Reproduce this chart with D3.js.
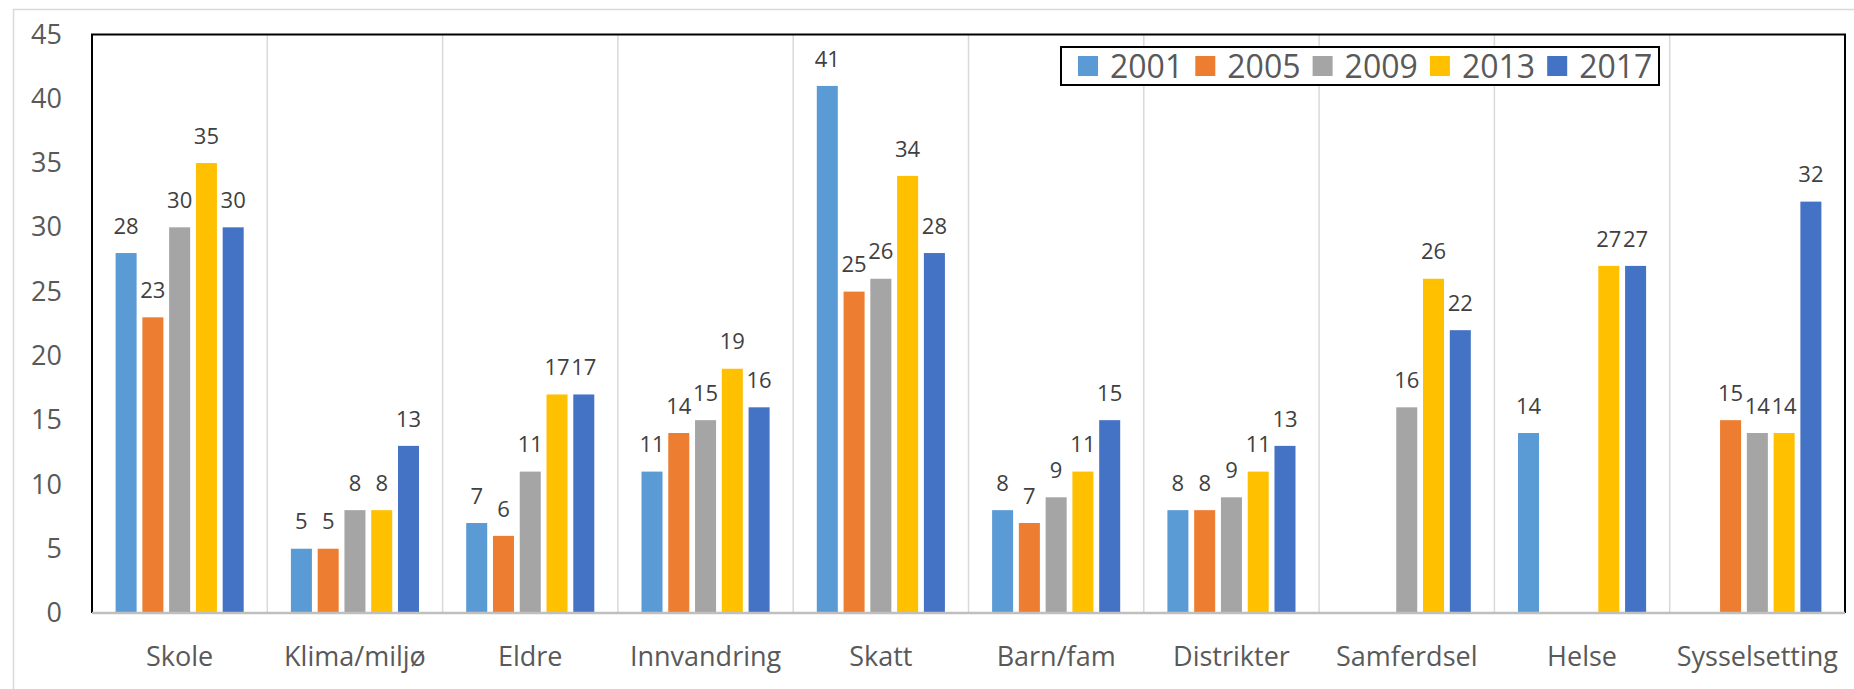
<!DOCTYPE html>
<html lang="no">
  <head>
    <meta charset="UTF-8">
    <title>Viktigste saker</title>
    <style>
      body { margin: 0; background: #fff; }
      svg { display: block; font-family: "Open Sans", sans-serif; }
    </style>
  </head>
  <body>
    <div id="chart-container"></div>
    <script src="https://d3js.org/d3.v7.min.js"></script>
    <script>
      // data
      const categories = ["Skole", "Klima/miljø", "Eldre", "Innvandring", "Skatt",
                          "Barn/fam", "Distrikter", "Samferdsel", "Helse", "Sysselsetting"];
      const years = ["2001", "2005", "2009", "2013", "2017"];
      const v2001 = [28, 5, 7, 11, 41, 8, 8, null, 14, null];
      const v2005 = [23, 5, 6, 14, 25, 7, 8, null, null, 15];
      const v2009 = [30, 8, 11, 15, 26, 9, 9, 16, null, 14];
      const v2013 = [35, 8, 17, 19, 34, 11, 11, 26, 27, 14];
      const v2017 = [30, 13, 17, 16, 28, 15, 13, 22, 27, 32];
      const yTicks = [0, 5, 10, 15, 20, 25, 30, 35, 40, 45];
      const colors = ["#5B9BD5", "#ED7D31", "#A5A5A5", "#FFC000", "#4472C4"];

      const series = [v2001, v2005, v2009, v2013, v2017];
      const rows = [];
      categories.forEach(function(c, i) {
        years.forEach(function(yr, j) {
          if (series[j][i] != null) rows.push({cat: c, year: yr, value: series[j][i]});
        });
      });

      const W = 1854, H = 689;
      const plotL = 92, plotR = 1845, plotT = 34.5, plotB = 613;

      const svg = d3.select("#chart-container").append("svg")
        .attr("width", W)
        .attr("height", H);

      // outer chart frame
      svg.append("path")
        .attr("d", "M13.5," + H + "V9.5H" + W)
        .attr("fill", "none")
        .attr("stroke", "#d9d9d9")
        .attr("stroke-width", 1.5);

      const x = d3.scaleBand().domain(categories).range([plotL, plotR]);
      const inner = d3.scaleBand().domain(years)
        .range([23.6, x.bandwidth() - 23.6])
        .paddingInner(0.215);
      const y = d3.scaleLinear().domain([0, 45]).range([plotB, plotT]);
      const color = d3.scaleOrdinal().domain(years).range(colors);

      // vertical separators between categories
      svg.append("g")
        .selectAll("line")
        .data(categories.slice(1))
        .enter().append("line")
        .attr("x1", d => x(d)).attr("x2", d => x(d))
        .attr("y1", plotT).attr("y2", plotB)
        .attr("stroke", "#d9d9d9")
        .attr("stroke-width", 1.5);

      // bars
      svg.append("g")
        .selectAll("rect")
        .data(rows)
        .enter().append("rect")
        .attr("x", d => x(d.cat) + inner(d.year))
        .attr("y", d => y(d.value))
        .attr("width", inner.bandwidth())
        .attr("height", d => y(0) - y(d.value))
        .attr("fill", d => color(d.year));

      // value labels
      svg.append("g")
        .selectAll("text")
        .data(rows)
        .enter().append("text")
        .attr("x", d => x(d.cat) + inner(d.year) + inner.bandwidth() / 2)
        .attr("y", d => y(d.value) - 27)
        .attr("dy", "0.35em")
        .attr("text-anchor", "middle")
        .style("font-size", "22px")
        .style("fill", "#404040")
        .text(d => d.value);

      // plot frame: black top / left / right, grey baseline
      svg.append("path")
        .attr("d", "M" + plotL + "," + plotB + "V" + plotT + "H" + plotR + "V" + plotB)
        .attr("fill", "none")
        .attr("stroke", "#000")
        .attr("stroke-width", 2);
      svg.append("line")
        .attr("x1", plotL).attr("x2", plotR)
        .attr("y1", plotB).attr("y2", plotB)
        .attr("stroke", "#bfbfbf")
        .attr("stroke-width", 2.5);

      // y axis labels
      const yAxis = svg.append("g")
        .attr("transform", "translate(62,0)")
        .call(d3.axisLeft(y).tickValues(yTicks).tickSize(0).tickPadding(0));
      yAxis.select(".domain").remove();
      yAxis.selectAll("text")
        .style("font-size", "27px")
        .style("font-family", "Open Sans, sans-serif")
        .style("fill", "#595959");

      // category labels
      const xAxis = svg.append("g")
        .attr("transform", "translate(0,657)")
        .call(d3.axisBottom(x).tickSize(0).tickPadding(0));
      xAxis.select(".domain").remove();
      xAxis.selectAll("text")
        .attr("dy", "0.35em")
        .style("font-size", "27px")
        .style("font-family", "Open Sans, sans-serif")
        .style("fill", "#595959");

      // legend
      const legend = svg.append("g");
      legend.append("rect")
        .attr("x", 1061).attr("y", 47)
        .attr("width", 598).attr("height", 38)
        .attr("fill", "#fff")
        .attr("stroke", "#000")
        .attr("stroke-width", 2);
      const item = legend.selectAll("g.item")
        .data(years)
        .enter().append("g")
        .attr("class", "item")
        .attr("transform", (d, i) => "translate(" + (1078 + i * 117.3) + ",0)");
      item.append("rect")
        .attr("x", 0).attr("y", 56)
        .attr("width", 20).attr("height", 20)
        .attr("fill", d => color(d));
      item.append("text")
        .attr("x", 32).attr("y", 66)
        .attr("dy", "0.36em")
        .style("font-size", "32px")
        .style("fill", "#595959")
        .text(d => d);
    </script>
  </body>
</html>
